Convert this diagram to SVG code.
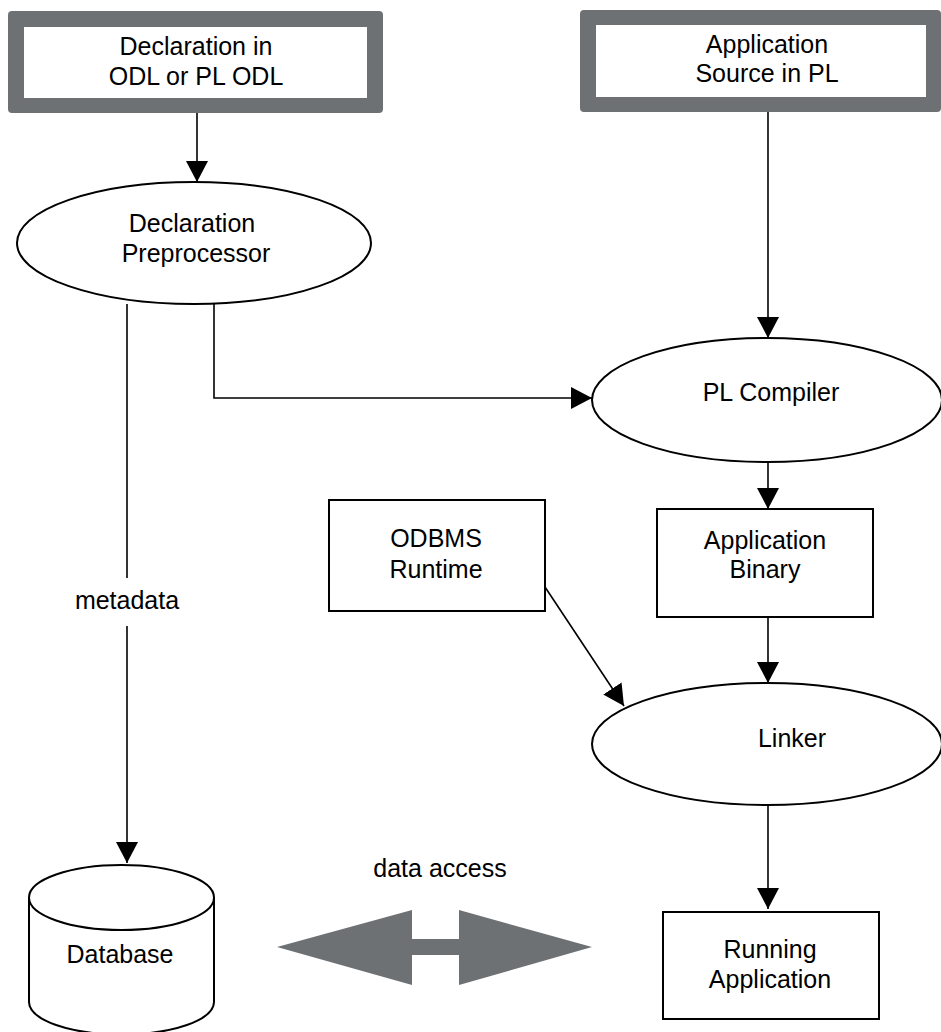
<svg xmlns="http://www.w3.org/2000/svg" width="941" height="1032" viewBox="0 0 941 1032">
<style>
text{font-family:"Liberation Sans",Arial,sans-serif;font-size:25px;fill:#000;text-anchor:middle}
.box{fill:#fff;stroke:#000;stroke-width:2}
.ell{fill:#fff;stroke:#000;stroke-width:2}
.frame{fill:#6e7174}
.inner{fill:#fff}
.conn{fill:none;stroke:#000;stroke-width:1.6}
</style>
<defs>
<marker id="ah" markerUnits="userSpaceOnUse" markerWidth="21" markerHeight="22" refX="21" refY="11" orient="auto">
<path d="M0,0 L21,11 L0,22 z" fill="#000"/>
</marker>
</defs>
<rect width="941" height="1032" fill="#fff"/>
<g id="connectors">
<path class="conn" d="M197,113 V182" marker-end="url(#ah)"/>
<path class="conn" d="M768,112 V338" marker-end="url(#ah)"/>
<path class="conn" d="M214,304 V398 H592" marker-end="url(#ah)"/>
<path class="conn" d="M127,304 V578"/>
<path class="conn" d="M127,626 V863" marker-end="url(#ah)"/>
<path class="conn" d="M768,461 V509" marker-end="url(#ah)"/>
<path class="conn" d="M545,587 L624,706" marker-end="url(#ah)"/>
<path class="conn" d="M768,617 V683" marker-end="url(#ah)"/>
<path class="conn" d="M768,804 V909" marker-end="url(#ah)"/>
<text x="127" y="609">metadata</text>
<polygon points="277,947 412,910 412,939 459,939 459,910 592,947 459,985 459,955 412,955 412,985" fill="#6e7174"/>
<text x="440" y="877">data access</text>
</g>
<g id="decl-odl">
<rect class="frame" x="8" y="11" width="375" height="102" rx="4"/>
<rect class="inner" x="24" y="27" width="343" height="71"/>
<text x="196" y="55">Declaration in</text>
<text x="196" y="85">ODL or PL ODL</text>
</g>
<g id="app-source">
<rect class="frame" x="580" y="10" width="361" height="102" rx="4"/>
<rect class="inner" x="596" y="25" width="330" height="72"/>
<text x="767" y="53">Application</text>
<text x="767" y="82">Source in PL</text>
</g>
<g id="decl-preprocessor">
<ellipse class="ell" cx="194" cy="243" rx="177" ry="61"/>
<text x="192" y="232">Declaration</text>
<text x="196" y="262">Preprocessor</text>
</g>
<g id="pl-compiler">
<ellipse class="ell" cx="767" cy="400" rx="175" ry="62"/>
<text x="771" y="401">PL Compiler</text>
</g>
<g id="odbms-runtime">
<rect class="box" x="329" y="500" width="216" height="111"/>
<text x="436" y="547">ODBMS</text>
<text x="436" y="578">Runtime</text>
</g>
<g id="app-binary">
<rect class="box" x="657" y="509" width="216" height="108"/>
<text x="765" y="549">Application</text>
<text x="765" y="578">Binary</text>
</g>
<g id="linker">
<ellipse class="ell" cx="767" cy="744" rx="175" ry="61"/>
<text x="792" y="747">Linker</text>
</g>
<g id="running-app">
<rect class="box" x="663" y="912" width="216" height="107"/>
<text x="770" y="958">Running</text>
<text x="770" y="988">Application</text>
</g>
<g id="database">
<path class="box" d="M29,897 V1002 A92.5,32.5 0 0 0 214,1002 V897"/>
<ellipse class="ell" cx="121.5" cy="897.5" rx="92.5" ry="32.5"/>
<text x="120" y="963">Database</text>
</g>
</svg>
